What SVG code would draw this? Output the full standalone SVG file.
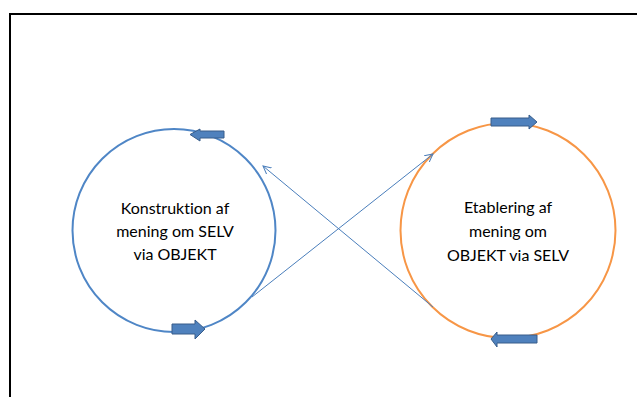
<svg xmlns="http://www.w3.org/2000/svg" width="637" height="397" viewBox="0 0 637 397">
<style>
.frame{fill:none;stroke:#000;stroke-width:2}
.cl{fill:#fff;stroke:#4F86C6;stroke-width:2}
.cr{fill:#fff;stroke:#F79646;stroke-width:2}
.blk{fill:#4F81BD;stroke:#385D8A;stroke-width:1}
.con{fill:none;stroke:#4A7EBB;stroke-width:1}
.t{font-family:Lato,"Liberation Sans",sans-serif;font-size:16px;fill:#000;text-anchor:middle;font-variant-ligatures:none;font-feature-settings:"liga" 0}
</style>
<defs>
<marker id="oa" viewBox="0 0 10 10" refX="9" refY="5" markerWidth="9" markerHeight="9" markerUnits="userSpaceOnUse" orient="auto">
<path d="M0,0.5 L9,5 L0,9.5" fill="none" stroke="#4A7EBB" stroke-width="1.1"/>
</marker>
</defs>
<rect class="frame" x="10" y="14" width="640" height="400"/>
<g id="node-left">
<circle class="cl" cx="174" cy="230.5" r="101.5"/>
<polygon class="blk" points="190,134.5 200,129 200,131 224,131 224,138 200,138 200,141"/>
<polygon class="blk" points="205,329 195,320 195,324 172,324 172,334 195,334 195,339"/>
<text class="t" x="175" y="214">Konstruktion af</text>
<text class="t" x="175" y="237">mening om SELV</text>
<text class="t" x="175" y="260">via OBJEKT</text>
</g>
<g id="node-right">
<circle class="cr" cx="508" cy="230.5" r="107.5"/>
<polygon class="blk" points="537,122 529,115 529,118 491,118 491,126 529,126 529,129"/>
<polygon class="blk" points="491,339 497,332 497,335 537,335 537,343 497,343 497,347"/>
<text class="t" x="508" y="213">Etablering af</text>
<text class="t" x="508" y="237">mening om</text>
<text class="t" x="508" y="261">OBJEKT via SELV</text>
</g>
<g id="connectors">
<line class="con" x1="252" y1="297" x2="433" y2="154" marker-end="url(#oa)"/>
<line class="con" x1="433" y1="307" x2="263" y2="166" marker-end="url(#oa)"/>
</g>
</svg>
